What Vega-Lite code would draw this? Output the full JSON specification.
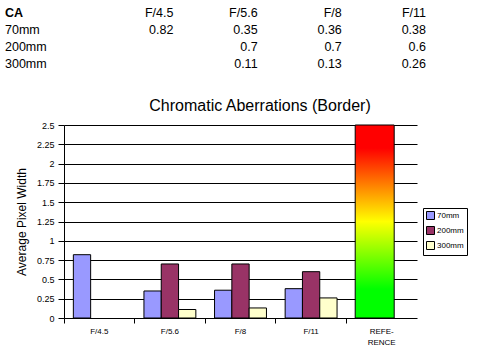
{
  "$schema": "https://vega.github.io/schema/vega-lite/v6.json",
  "autosize": {"type": "none"},
  "padding": {"left": 64, "top": 125, "right": 87, "bottom": 37},
  "width": 338,
  "height": 193,
  "background": "white",
  "config": {
    "view": {"stroke": null},
    "font": "Liberation Sans",
    "text": {"font": "Liberation Sans", "color": "black"}
  },
  "title": {
    "text": "Chromatic Aberrations (Border)",
    "font": "Liberation Sans",
    "fontSize": 16,
    "fontWeight": "normal",
    "color": "black",
    "anchor": "middle",
    "baseline": "alphabetic",
    "offset": 0,
    "dx": 27,
    "dy": 120
  },
  "datasets": {
    "ca": [
      {"focal": "70mm", "aperture": "F/4.5", "value": 0.82},
      {"focal": "70mm", "aperture": "F/5.6", "value": 0.35},
      {"focal": "70mm", "aperture": "F/8", "value": 0.36},
      {"focal": "70mm", "aperture": "F/11", "value": 0.38},
      {"focal": "200mm", "aperture": "F/5.6", "value": 0.7},
      {"focal": "200mm", "aperture": "F/8", "value": 0.7},
      {"focal": "200mm", "aperture": "F/11", "value": 0.6},
      {"focal": "300mm", "aperture": "F/5.6", "value": 0.11},
      {"focal": "300mm", "aperture": "F/8", "value": 0.13},
      {"focal": "300mm", "aperture": "F/11", "value": 0.26}
    ],
    "reference": [{"aperture": "REFERENCE", "value": 2.5}],
    "apertures": [{"aperture": "F/4.5"}, {"aperture": "F/5.6"}, {"aperture": "F/8"}, {"aperture": "F/11"}],
    "focals": [{"focal": "70mm"}, {"focal": "200mm"}, {"focal": "300mm"}],
    "header": [{"label": "CA"}]
  },
  "layer": [
    {
      "encoding": {
        "x": {
          "field": "aperture", "type": "nominal", "sort": null,
          "scale": {"domain": ["F/4.5", "F/5.6", "F/8", "F/11", "REFERENCE"], "range": [0, 353], "paddingInner": 0, "paddingOuter": 0},
          "axis": {
            "title": null, "domain": false, "grid": false, "bandPosition": 0,
            "tickColor": "black", "tickSize": 5, "tickWidth": 1, "labelFontSize": 8, "labelPadding": 4, "labelColor": "black",
            "labelAngle": 0, "labelLineHeight": 11, "labelFont": "Liberation Sans",
            "labelExpr": "datum.value == 'REFERENCE' ? ['REFE-', 'RENCE'] : datum.label"
          }
        },
        "y": {
          "field": "value", "type": "quantitative",
          "scale": {"domain": [0, 2.5], "nice": false},
          "axis": {
            "values": [0, 0.25, 0.5, 0.75, 1, 1.25, 1.5, 1.75, 2, 2.25, 2.5],
            "format": ".2~f", "grid": true, "gridColor": "black", "gridOpacity": 1, "gridWidth": 1,
            "domainColor": "black", "tickColor": "black", "tickSize": 6, "labelOverlap": false,
            "labelFontSize": 9, "labelPadding": 4, "labelColor": "black", "labelFont": "Liberation Sans",
            "title": "Average Pixel Width", "titleFontSize": 12, "titleFontWeight": "normal",
            "titleColor": "black", "titleFont": "Liberation Sans", "titlePadding": 8
          }
        }
      },
      "layer": [
        {
          "data": {"name": "ca"},
          "mark": {"type": "bar", "stroke": "black", "strokeWidth": 1},
          "encoding": {
            "xOffset": {
              "field": "focal", "type": "nominal",
              "scale": {"domain": ["70mm", "200mm", "300mm"], "paddingInner": 0, "paddingOuter": 0.54}
            },
            "color": {
              "field": "focal", "type": "nominal",
              "scale": {"domain": ["70mm", "200mm", "300mm"], "range": ["#9999FF", "#993366", "#FFFFCC"]},
              "legend": {
                "title": null, "orient": "none", "legendX": 359, "legendY": 83,
                "fillColor": "white", "strokeColor": "black", "padding": 3,
                "symbolType": "square", "symbolSize": 64, "symbolStrokeColor": "black", "symbolStrokeWidth": 1,
                "labelFontSize": 8, "labelFont": "Liberation Sans", "labelColor": "black", "labelOffset": 2, "rowPadding": 2
              }
            }
          }
        },
        {
          "data": {"name": "reference"},
          "mark": {
            "type": "bar", "stroke": "black", "strokeWidth": 1, "width": 39, "xOffset": -7,
            "fill": {
              "gradient": "linear", "x1": 0, "y1": 1, "x2": 0, "y2": 0,
              "stops": [
                {"offset": 0, "color": "#00FF00"},
                {"offset": 0.15, "color": "#00FF00"},
                {"offset": 0.5, "color": "#FFFF00"},
                {"offset": 0.88, "color": "#FF0000"},
                {"offset": 1, "color": "#FF0000"}
              ]
            }
          }
        }
      ]
    },
    {
      "layer": [
        {
          "data": {"name": "ca"},
          "mark": {"type": "text", "align": "right", "baseline": "alphabetic", "fontSize": 12.5},
          "encoding": {
            "x": {"field": "aperture", "type": "nominal", "axis": null,
                  "scale": {"type": "point", "domain": ["label", "spacer", "F/4.5", "F/5.6", "F/8", "F/11"], "range": [-59, 362], "padding": 0}},
            "y": {"field": "focal", "type": "nominal", "axis": null,
                  "scale": {"type": "point", "domain": ["CA", "70mm", "200mm", "300mm"], "range": [-108, -57.5], "padding": 0}},
            "text": {"field": "value", "type": "nominal"}
          }
        },
        {
          "data": {"name": "apertures"},
          "mark": {"type": "text", "align": "right", "baseline": "alphabetic", "fontSize": 12.5},
          "encoding": {
            "x": {"field": "aperture", "type": "nominal", "axis": null},
            "y": {"datum": "CA", "type": "nominal", "axis": null},
            "text": {"field": "aperture", "type": "nominal"}
          }
        },
        {
          "data": {"name": "focals"},
          "mark": {"type": "text", "align": "left", "baseline": "alphabetic", "fontSize": 12.5},
          "encoding": {
            "x": {"datum": "label", "type": "nominal", "axis": null},
            "y": {"field": "focal", "type": "nominal", "axis": null},
            "text": {"field": "focal", "type": "nominal"}
          }
        },
        {
          "data": {"name": "header"},
          "mark": {"type": "text", "align": "left", "baseline": "alphabetic", "fontSize": 12.5, "fontWeight": "bold"},
          "encoding": {
            "x": {"datum": "label", "type": "nominal", "axis": null},
            "y": {"datum": "CA", "type": "nominal", "axis": null},
            "text": {"field": "label", "type": "nominal"}
          }
        }
      ]
    }
  ],
  "resolve": {"scale": {"x": "independent", "y": "independent"}}
}
